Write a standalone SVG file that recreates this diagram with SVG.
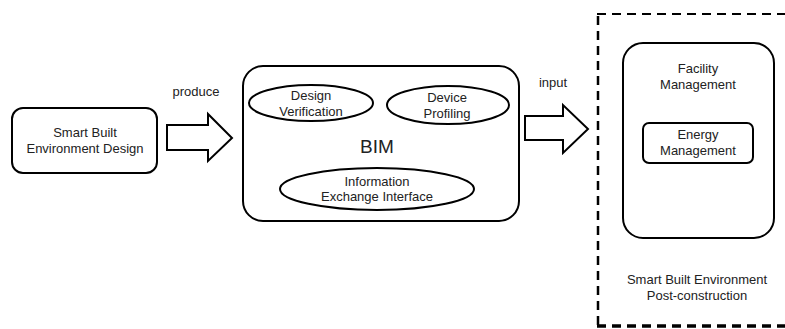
<svg xmlns="http://www.w3.org/2000/svg" width="785" height="329" viewBox="0 0 785 329">
<style>
.box{fill:#fff;stroke:#000;stroke-width:2}
.ell{fill:#fff;stroke:#000;stroke-width:2}
.t{font-family:"Liberation Sans",Arial,sans-serif;font-size:13px;fill:#222;text-anchor:middle}
.big{font-size:19px}
.arrow{fill:#fff;stroke:#000;stroke-width:2;stroke-linejoin:miter}
.dash{fill:none;stroke:#000;stroke-dasharray:9,6}
</style>
<rect width="785" height="329" fill="#fff"/>
<g id="post-construction">
<path class="dash" stroke-width="2.5" d="M598,325 V14"/>
<path class="dash" stroke-width="2.2" d="M597,14 H785"/>
<path class="dash" stroke-width="3.5" d="M597,326 H785"/>
<text class="t" x="697" y="284">Smart Built Environment</text>
<text class="t" x="697" y="300">Post-construction</text>
</g>
<g id="design">
<rect class="box" x="12" y="108" width="145" height="65" rx="11"/>
<text class="t" x="85" y="137">Smart Built</text>
<text class="t" x="85" y="153">Environment Design</text>
</g>
<g id="bim">
<rect class="box" x="243" y="66" width="276" height="155" rx="20"/>
<text class="t big" x="377" y="153">BIM</text>
</g>
<g id="design-verification">
<ellipse class="ell" cx="311" cy="103" rx="62" ry="18"/>
<text class="t" x="311" y="100">Design</text>
<text class="t" x="311" y="116">Verification</text>
</g>
<g id="device-profiling">
<ellipse class="ell" cx="448" cy="105" rx="61" ry="19"/>
<text class="t" x="447" y="102">Device</text>
<text class="t" x="447" y="118">Profiling</text>
</g>
<g id="info-exchange">
<ellipse class="ell" cx="377" cy="189" rx="97" ry="21"/>
<text class="t" x="377" y="186">Information</text>
<text class="t" x="377" y="201">Exchange Interface</text>
</g>
<g id="facility">
<rect class="box" x="623" y="43" width="151" height="195" rx="20"/>
<text class="t" x="698" y="73">Facility</text>
<text class="t" x="698" y="89">Management</text>
</g>
<g id="energy">
<rect class="box" x="643" y="123" width="110" height="40" rx="6"/>
<text class="t" x="698" y="139">Energy</text>
<text class="t" x="698" y="155">Management</text>
</g>
<g id="connectors">
<polygon class="arrow" points="167,125 208,125 208,114 232,138 208,161 208,150 167,150"/>
<text class="t" x="196" y="96">produce</text>
<polygon class="arrow" points="525,116 563,116 563,105 588,129 563,153 563,140 525,140"/>
<text class="t" x="553" y="87">input</text>
</g>
</svg>
